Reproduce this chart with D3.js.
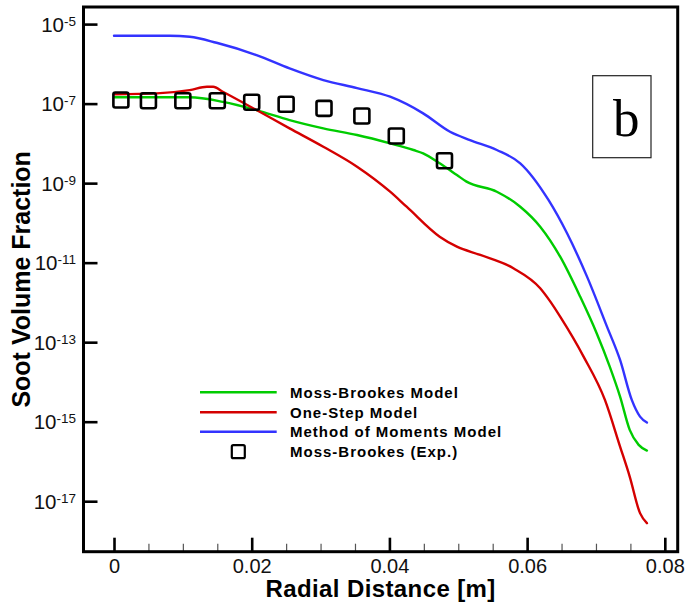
<!DOCTYPE html>
<html>
<head>
<meta charset="utf-8">
<script src="https://cdn.jsdelivr.net/npm/d3@7"></script>
<style>
  html, body { margin: 0; padding: 0; background: #fff; }
  svg { display: block; font-family: "Liberation Sans", Arial, sans-serif; }
</style>
</head>
<body>
<svg id="chart" width="686" height="603"></svg>
<script>
// Radial soot volume fraction profiles: three models and the measured points.
const mbRadius = [0, 0.0110, 0.0158, 0.0207, 0.0255, 0.0304, 0.0353, 0.0401, 0.0435, 0.0449, 0.0473, 0.0498, 0.0512, 0.0556, 0.0590, 0.0619, 0.0648, 0.0677, 0.0701, 0.0720, 0.0735, 0.0749, 0.0762, 0.0774];
const mbFraction = [1.44e-7, 1.44e-7, 1.11e-7, 6.89e-8, 3.86e-8, 2.39e-8, 1.62e-8, 1.00e-8, 6.81e-9, 5.62e-9, 3.15e-9, 1.60e-9, 1.09e-9, 6.09e-10, 2.55e-10, 8.02e-11, 1.41e-11, 1.40e-12, 1.68e-13, 2.43e-14, 4.28e-15, 6.22e-16, 2.61e-16, 1.88e-16];

const osRadius = [0, 0.0062, 0.0110, 0.0135, 0.0144, 0.0158, 0.0207, 0.0255, 0.0304, 0.0353, 0.0401, 0.0425, 0.0473, 0.0498, 0.0532, 0.0580, 0.0619, 0.0633, 0.0648, 0.0682, 0.0713, 0.0735, 0.0749, 0.0764, 0.0774];
const osFraction = [1.71e-7, 1.81e-7, 2.19e-7, 2.65e-7, 2.65e-7, 1.99e-7, 6.89e-8, 2.39e-8, 8.24e-9, 2.59e-9, 6.09e-10, 2.55e-10, 4.50e-11, 2.52e-11, 1.56e-11, 7.23e-12, 2.27e-12, 1.09e-12, 4.38e-13, 4.34e-14, 3.53e-15, 2.37e-16, 4.17e-17, 5.01e-18, 2.81e-18];

const mmRadius = [0, 0.0081, 0.0110, 0.0149, 0.0207, 0.0255, 0.0304, 0.0353, 0.0401, 0.0449, 0.0488, 0.0517, 0.0556, 0.0590, 0.0631, 0.0658, 0.0687, 0.0716, 0.0735, 0.0752, 0.0764, 0.0774];
const mmFraction = [5.08e-6, 5.08e-6, 4.80e-6, 3.39e-6, 1.66e-6, 7.69e-7, 3.91e-7, 2.46e-7, 1.49e-7, 5.69e-8, 1.96e-8, 1.21e-8, 6.81e-9, 3.15e-9, 3.77e-10, 5.47e-11, 4.45e-12, 2.46e-13, 3.57e-14, 3.53e-15, 1.34e-15, 9.5e-16];

const expRadius = [0.001, 0.005, 0.010, 0.015, 0.020, 0.025, 0.0305, 0.036, 0.041, 0.048];
const expFraction = [1.23e-7, 1.18e-7, 1.18e-7, 1.18e-7, 1.08e-7, 9.6e-8, 7.6e-8, 4.87e-8, 1.53e-8, 3.66e-9];

const seriesNames = ["Moss-Brookes Model", "One-Step Model", "Method of Moments Model", "Moss-Brookes (Exp.)"];
const seriesColors = ["#00cc00", "#d40000", "#3333ff", "#000000"];

const xMajorTicks = [0, 0.02, 0.04, 0.06, 0.08];
const xTickLabels = ["0", "0.02", "0.04", "0.06", "0.08"];
const xMinorTicks = [0.005, 0.01, 0.015, 0.025, 0.03, 0.035, 0.045, 0.05, 0.055, 0.065, 0.07, 0.075];
const yTickExponents = [-5, -7, -9, -11, -13, -15, -17];

const panelLabel = "b";
const xTitle = "Radial Distance [m]";
const yTitle = "Soot Volume Fraction";

// ---- layout ----
const plot = { left: 83.5, right: 677.7, top: 7, bottom: 551.7 };

const x = d3.scaleLinear()
  .domain([-0.00443, 0.08187])
  .range([plot.left, plot.right]);

const y = d3.scaleLog()
  .domain([Math.pow(10, -18.27), Math.pow(10, -4.57)])
  .range([plot.bottom, plot.top]);

const svg = d3.select("#chart");

// ---- curves ----
const line = d3.line()
  .x(d => x(d[0]))
  .y(d => y(d[1]))
  .curve(d3.curveMonotoneX);

const curves = [
  { r: mbRadius, f: mbFraction, color: seriesColors[0] },
  { r: osRadius, f: osFraction, color: seriesColors[1] },
  { r: mmRadius, f: mmFraction, color: seriesColors[2] }
];

svg.append("g").attr("class", "curves")
  .selectAll("path")
  .data(curves)
  .join("path")
  .attr("d", c => line(c.r.map((r, i) => [r, c.f[i]])))
  .attr("fill", "none")
  .attr("stroke", c => c.color)
  .attr("stroke-width", 2.4)
  .attr("stroke-linejoin", "round")
  .attr("stroke-linecap", "round");

// ---- experimental points ----
const sq = 15;
svg.append("g").attr("class", "points")
  .selectAll("rect")
  .data(expRadius.map((r, i) => [r, expFraction[i]]))
  .join("rect")
  .attr("x", d => x(d[0]) - sq / 2)
  .attr("y", d => y(d[1]) - sq / 2)
  .attr("width", sq)
  .attr("height", sq)
  .attr("rx", 2)
  .attr("fill", "none")
  .attr("stroke", "#000")
  .attr("stroke-width", 2.6);

// ---- axes ----
const frame = svg.append("g").attr("class", "frame");

// bottom axis: major ticks with labels
const xAxis = d3.axisBottom(x)
  .tickValues(xMajorTicks)
  .tickSize(-14)
  .tickPadding(7)
  .tickFormat((d, i) => xTickLabels[i]);

const gx = frame.append("g")
  .attr("transform", `translate(0,${plot.bottom})`)
  .call(xAxis);
gx.select(".domain").remove();
gx.selectAll(".tick line").attr("stroke", "#000").attr("stroke-width", 2.6);
gx.selectAll(".tick text")
  .attr("font-size", 20)
  .attr("fill", "#111")
  .attr("font-family", "Liberation Sans, Arial, sans-serif");

// bottom axis: minor ticks
const xMinor = d3.axisBottom(x)
  .tickValues(xMinorTicks)
  .tickSize(-8)
  .tickFormat("");
const gxm = frame.append("g")
  .attr("transform", `translate(0,${plot.bottom})`)
  .call(xMinor);
gxm.select(".domain").remove();
gxm.selectAll(".tick line").attr("stroke", "#555").attr("stroke-width", 1.2);

// left axis: decade ticks with power-of-ten labels
const yAxis = d3.axisLeft(y)
  .tickValues(yTickExponents.map(e => Math.pow(10, e)))
  .tickSize(-14)
  .tickFormat("");
const gy = frame.append("g")
  .attr("transform", `translate(${plot.left},0)`)
  .call(yAxis);
gy.select(".domain").remove();
gy.selectAll(".tick line").attr("stroke", "#000").attr("stroke-width", 2.6);

gy.selectAll(".tick").each(function (d, i) {
  const t = d3.select(this).append("text")
    .attr("x", -7.5)
    .attr("y", 7.2)
    .attr("text-anchor", "end")
    .attr("fill", "#111")
    .attr("font-family", "Liberation Sans, Arial, sans-serif");
  t.append("tspan").attr("font-size", 20.5).text("10");
  t.append("tspan").attr("font-size", 13.5).attr("dy", -6).text(String(yTickExponents[i]));
});

// plot box
frame.append("rect")
  .attr("x", plot.left)
  .attr("y", plot.top)
  .attr("width", plot.right - plot.left)
  .attr("height", plot.bottom - plot.top)
  .attr("fill", "none")
  .attr("stroke", "#000")
  .attr("stroke-width", 3);

// ---- axis titles ----
svg.append("text")
  .attr("x", (plot.left + plot.right) / 2)
  .attr("y", 597)
  .attr("text-anchor", "middle")
  .attr("font-weight", "bold")
  .attr("font-size", 24)
  .attr("letter-spacing", 0.4)
  .attr("fill", "#000")
  .text(xTitle);

svg.append("text")
  .attr("transform", `translate(30,${(plot.top + plot.bottom) / 2}) rotate(-90)`)
  .attr("text-anchor", "middle")
  .attr("font-weight", "bold")
  .attr("font-size", 25)
  .attr("fill", "#000")
  .text(yTitle);

// ---- legend ----
const legend = svg.append("g").attr("class", "legend");
const legendRows = [392.3, 412.3, 431.7, 451.7];
seriesNames.forEach((name, i) => {
  const ly = legendRows[i];
  if (i < 3) {
    legend.append("line")
      .attr("x1", 200).attr("x2", 276.7)
      .attr("y1", ly).attr("y2", ly)
      .attr("stroke", seriesColors[i])
      .attr("stroke-width", 2.4);
  } else {
    legend.append("rect")
      .attr("x", 238.3 - 6.5).attr("y", ly - 6.5)
      .attr("width", 13).attr("height", 13)
      .attr("rx", 1.5)
      .attr("fill", "none")
      .attr("stroke", "#000")
      .attr("stroke-width", 2.2);
  }
  legend.append("text")
    .attr("x", 290)
    .attr("y", ly + 5.3)
    .attr("font-weight", "bold")
    .attr("font-size", 15)
    .attr("letter-spacing", 1)
    .attr("fill", "#000")
    .text(name);
});

// ---- panel label ----
const tag = svg.append("g").attr("class", "panel-label");
tag.append("rect")
  .attr("x", 592.7).attr("y", 75.7)
  .attr("width", 58.3).attr("height", 82)
  .attr("fill", "#fff")
  .attr("stroke", "#222")
  .attr("stroke-width", 1.2);
tag.append("text")
  .attr("x", 626.3)
  .attr("y", 136)
  .attr("text-anchor", "middle")
  .attr("font-family", "Liberation Serif, Times New Roman, serif")
  .attr("font-size", 53)
  .attr("fill", "#000")
  .text(panelLabel);
</script>
</body>
</html>
